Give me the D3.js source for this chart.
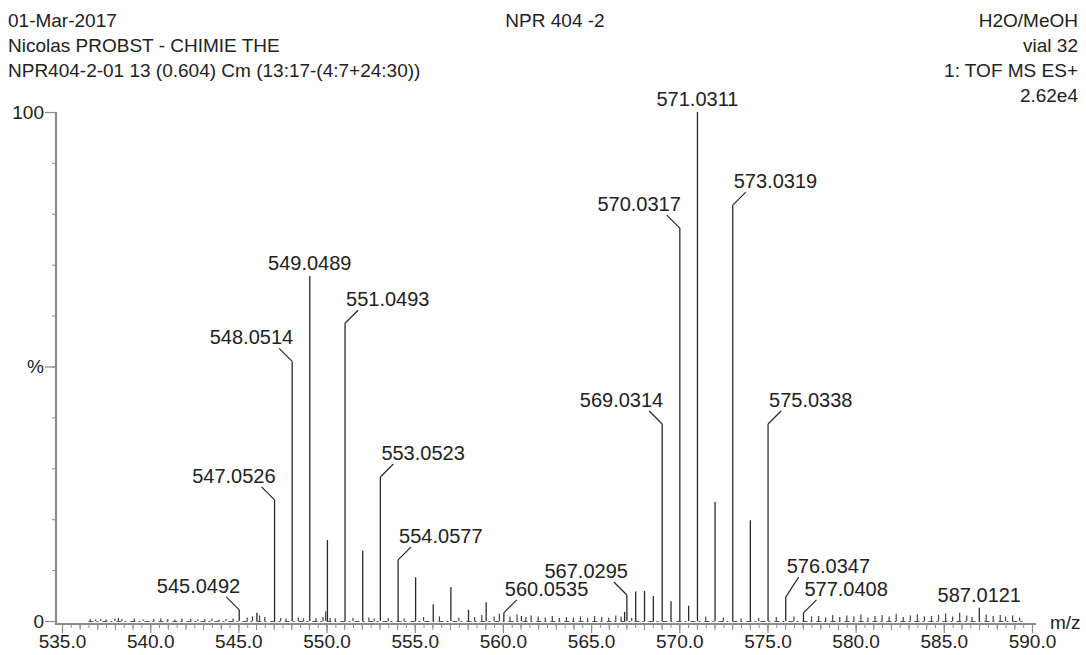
<!DOCTYPE html>
<html>
<head>
<meta charset="utf-8">
<script src="https://cdn.jsdelivr.net/npm/d3@7"></script>
<style>
  body { margin: 0; background: #fff; }
  svg text { font-family: "Liberation Sans", Arial, sans-serif; fill: #222; }
</style>
</head>
<body>
<div id="chart"></div>
<script>
// header text
var headerLeft = ["01-Mar-2017", "Nicolas PROBST - CHIMIE THE", "NPR404-2-01 13 (0.604) Cm (13:17-(4:7+24:30))"];
var headerRight = ["H2O/MeOH", "vial 32", "1: TOF MS ES+", "2.62e4"];
var title = "NPR 404 -2";

// main peaks (m/z, % of base peak)
var peakMz = [545.0492, 546.05, 547.0526, 548.0514, 549.0489, 550.05, 551.0493, 552.05, 553.0523, 554.0577,
              555.05, 556.05, 557.05, 558.05, 559.05, 560.0535, 561.05, 566.9, 567.0295, 567.53,
              568.03, 568.53, 569.0314, 569.53, 570.0317, 570.53, 571.0311, 572.03, 573.0319, 574.03,
              575.0338, 576.0347, 577.0408, 587.0121];
var peakPct = [2.2, 1.6, 23.8, 51.0, 67.8, 15.9, 58.5, 13.8, 28.3, 12.0,
               8.6, 3.3, 6.7, 2.2, 3.7, 1.6, 1.0, 1.8, 5.1, 5.8,
               5.9, 4.9, 38.7, 3.9, 77.2, 3.0, 100, 23.4, 81.7, 19.8,
               38.7, 4.7, 1.6, 2.6];

// small noise peaks along the baseline
var noiseMz = [536.6, 536.9, 537.2, 537.5, 538.0, 538.2, 538.4, 539.1, 539.6, 540.2,
               540.6, 541.0, 541.4, 541.8, 542.3, 542.7, 543.1, 543.5, 543.9, 544.3,
               544.7, 545.5, 545.8, 546.2, 546.5, 547.4, 547.7, 548.4, 548.7, 549.4,
               549.8, 549.95, 550.2, 550.5, 551.5, 552.4, 552.7, 553.5, 554.4, 555.5,
               556.4, 557.5, 558.4, 558.8, 559.5, 559.8, 560.4, 560.8, 561.3, 561.6,
               562.0, 562.4, 562.8, 563.2, 563.6, 564.0, 564.4, 564.8, 565.2, 565.6,
               566.0, 566.4, 566.7, 567.3, 571.5, 572.5, 573.5, 574.5, 575.5, 576.5,
               577.5, 577.9, 578.3, 578.7, 579.1, 579.5, 579.9, 580.3, 580.7, 581.1,
               581.5, 581.9, 582.3, 582.7, 583.1, 583.5, 583.9, 584.3, 584.7, 585.1,
               585.5, 585.9, 586.3, 586.6, 587.4, 587.8, 588.2, 588.5, 588.9, 589.3];
var noisePct = [0.4, 0.3, 0.4, 0.3, 0.5, 0.6, 0.4, 0.5, 0.3, 0.4,
                0.5, 0.4, 0.3, 0.5, 0.4, 0.3, 0.4, 0.5, 0.3, 0.4,
                0.5, 0.7, 0.9, 1.1, 0.8, 0.6, 0.5, 0.7, 0.5, 0.6,
                0.8, 1.9, 0.6, 0.5, 0.6, 0.7, 0.5, 0.6, 0.5, 0.8,
                0.9, 0.7, 0.8, 1.2, 0.9, 1.4, 0.9, 1.3, 0.8, 1.1,
                0.9, 0.7, 1.0, 0.6, 0.8, 0.7, 0.9, 0.6, 1.0, 0.8,
                0.7, 1.1, 0.9, 0.6, 0.9, 0.7, 0.5, 0.6, 0.8, 0.9,
                0.9, 1.0, 0.7, 1.2, 0.8, 1.1, 0.9, 1.3, 0.7, 1.0,
                1.2, 0.9, 1.4, 0.8, 1.1, 1.3, 0.9, 1.0, 1.2, 1.5,
                0.9, 1.6, 1.1, 0.8, 1.3, 1.0, 1.2, 0.9, 1.1, 0.7];

// labelled peaks and where the label sits
var labelText = ["545.0492", "547.0526", "548.0514", "549.0489", "551.0493", "553.0523", "554.0577",
                 "560.0535", "567.0295", "569.0314", "570.0317", "571.0311", "573.0319", "575.0338",
                 "576.0347", "577.0408", "587.0121"];
var labelSide = ["left", "left", "left", "top", "right", "right", "right",
                 "right", "left", "left", "left", "top", "right", "right",
                 "right", "right", "top"];

var xTicks = [535, 540, 545, 550, 555, 560, 565, 570, 575, 580, 585, 590];
var yTicks = [0, 50, 100];
var yTickLabels = ["0", "%", "100"];

var width = 1086, height = 655;
var leaderLen = 13;
var leaderLong = { "576.0347": 20 };   // crowded pair, lift this one

var svg = d3.select("#chart").append("svg")
    .attr("width", width)
    .attr("height", height);

var x = d3.scaleLinear().domain([535, 590]).range([62, 1032]);
var y = d3.scaleLinear().domain([0, 100]).range([621, 112]);

/* header */
svg.append("g").selectAll("text")
    .data(headerLeft)
    .enter().append("text")
    .attr("x", 8)
    .attr("y", function(d, i) { return 27 + i * 25; })
    .attr("font-size", "19px")
    .text(function(d) { return d; });

svg.append("g").selectAll("text")
    .data(headerRight)
    .enter().append("text")
    .attr("x", 1078)
    .attr("y", function(d, i) { return 27 + i * 25; })
    .attr("text-anchor", "end")
    .attr("font-size", "19px")
    .text(function(d) { return d; });

svg.append("text")
    .attr("x", 555)
    .attr("y", 27)
    .attr("text-anchor", "middle")
    .attr("font-size", "19px")
    .text(title);

/* axes */
var axisColor = "#8c8c8c";

var xMinor = svg.append("g")
    .attr("transform", "translate(0," + 624 + ")")
    .call(d3.axisBottom(x).tickValues(d3.range(535, 590.01, 0.5)).tickSize(4).tickFormat(""));
xMinor.select(".domain").remove();
xMinor.selectAll("line").attr("stroke", axisColor);

var xOnes = svg.append("g")
    .attr("transform", "translate(0," + 624 + ")")
    .call(d3.axisBottom(x).tickValues(d3.range(535, 591, 1)).tickSize(6).tickFormat(""));
xOnes.select(".domain").remove();
xOnes.selectAll("line").attr("stroke", axisColor);

var xAxis = svg.append("g")
    .attr("transform", "translate(0," + 624 + ")")
    .call(d3.axisBottom(x).tickValues(xTicks).tickSize(9).tickFormat(d3.format(".1f")));
xAxis.select(".domain").remove();
xAxis.selectAll("line").attr("stroke", axisColor).attr("stroke-width", 1.2);
xAxis.selectAll("text")
    .attr("y", 24)
    .attr("dy", 0)
    .attr("font-size", "19px")
    .attr("fill", "#222");

svg.append("line")
    .attr("x1", 56).attr("x2", 1036)
    .attr("y1", 624).attr("y2", 624)
    .attr("stroke", axisColor)
    .attr("stroke-width", 2.2);

svg.append("text")
    .attr("x", 1050)
    .attr("y", 629)
    .attr("font-size", "19px")
    .text("m/z");

var yMinor = svg.append("g")
    .attr("transform", "translate(56,0)")
    .call(d3.axisLeft(y).tickValues(d3.range(0, 101, 10)).tickSize(4).tickFormat(""));
yMinor.select(".domain").remove();
yMinor.selectAll("line").attr("stroke", axisColor);

var yAxis = svg.append("g")
    .attr("transform", "translate(56,0)")
    .call(d3.axisLeft(y).tickValues(yTicks).tickSize(11)
        .tickFormat(function(d, i) { return yTickLabels[i]; }));
yAxis.select(".domain").remove();
yAxis.selectAll("line").attr("stroke", axisColor).attr("stroke-width", 1.2);
yAxis.selectAll("text")
    .attr("x", -12)
    .attr("font-size", "19px")
    .attr("fill", "#222");

svg.append("line")
    .attr("x1", 56).attr("x2", 56)
    .attr("y1", 112).attr("y2", 625)
    .attr("stroke", axisColor)
    .attr("stroke-width", 2.2);

/* spectrum */
var noise = noiseMz.map(function(d, i) { return { mz: d, pct: noisePct[i] }; });
svg.append("g").selectAll("line")
    .data(noise)
    .enter().append("line")
    .attr("x1", function(d) { return x(d.mz); })
    .attr("x2", function(d) { return x(d.mz); })
    .attr("y1", y(0))
    .attr("y2", function(d) { return y(d.pct); })
    .attr("stroke", "#444")
    .attr("stroke-width", 1.2);

svg.append("line")
    .attr("x1", x(536.5)).attr("x2", x(589.5))
    .attr("y1", y(0) + 0.5).attr("y2", y(0) + 0.5)
    .attr("stroke", "#555")
    .attr("stroke-width", 1)
    .attr("stroke-dasharray", "5,3,2,4");

var peaks = peakMz.map(function(d, i) { return { mz: d, pct: peakPct[i] }; });
svg.append("g").selectAll("line")
    .data(peaks)
    .enter().append("line")
    .attr("x1", function(d) { return x(d.mz); })
    .attr("x2", function(d) { return x(d.mz); })
    .attr("y1", y(0))
    .attr("y2", function(d) { return y(d.pct); })
    .attr("stroke", "#2a2a2a")
    .attr("stroke-width", 1.3);

/* peak labels with leader lines */
var labels = labelText.map(function(t, i) {
    var mz = +t;
    var j = peakMz.indexOf(mz);
    return { text: t, mz: mz, pct: peakPct[j], side: labelSide[i], len: leaderLong[t] || leaderLen };
});

var lab = svg.append("g").selectAll("g")
    .data(labels)
    .enter().append("g");

lab.filter(function(d) { return d.side !== "top"; })
    .append("line")
    .attr("x1", function(d) { return x(d.mz); })
    .attr("y1", function(d) { return y(d.pct); })
    .attr("x2", function(d) { return x(d.mz) + (d.side === "left" ? -13 : 13); })
    .attr("y2", function(d) { return y(d.pct) - d.len; })
    .attr("stroke", "#2a2a2a")
    .attr("stroke-width", 1.2);

lab.append("text")
    .attr("x", function(d) { return d.side === "top" ? x(d.mz) : x(d.mz) + 1; })
    .attr("y", function(d) { return y(d.pct) - (d.side === "top" ? 6 : d.len + 4); })
    .attr("text-anchor", function(d) {
        return d.side === "left" ? "end" : (d.side === "right" ? "start" : "middle");
    })
    .attr("font-size", "20px")
    .text(function(d) { return d.text; });
</script>
</body>
</html>
